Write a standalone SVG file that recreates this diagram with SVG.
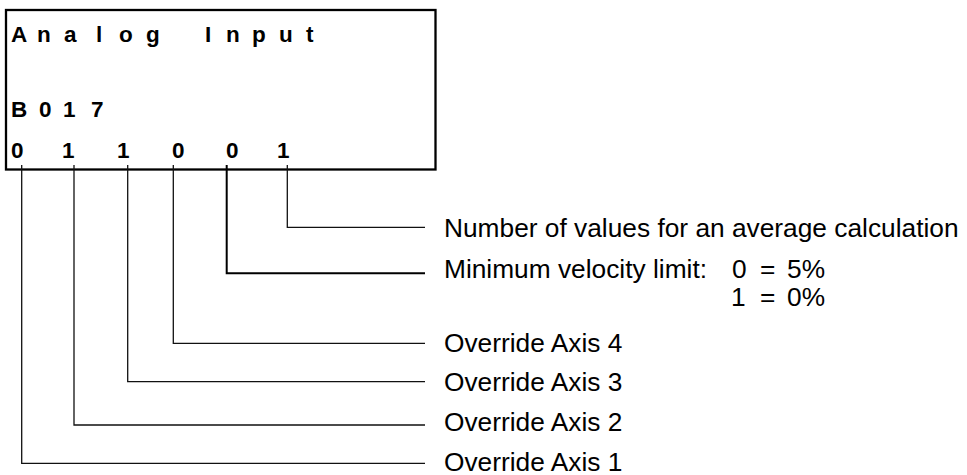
<svg xmlns="http://www.w3.org/2000/svg" width="967" height="475" viewBox="0 0 967 475">
<style>
.b{font-family:"Liberation Sans",Arial,sans-serif;font-weight:bold;font-size:22.5px;fill:#000}
.t{font-family:"Liberation Sans",Arial,sans-serif;font-size:26.3px;fill:#000}
.c{fill:none;stroke:#111;stroke-width:1.3}
.c2{fill:none;stroke:#000;stroke-width:2}
</style>
<rect width="967" height="475" fill="#fff"/>
<g id="display">
<rect x="6" y="10" width="429.5" height="159.5" fill="none" stroke="#000" stroke-width="2.3"/>
<text class="b" x="11 37 64 96 119 146 175 205 226 252 279 306" y="41.5">Analog Input</text>
<text class="b" x="11 39 63 91" y="117.3">B017</text>
<text class="b" x="11 62 117 172 226 277" y="158.3">011001</text>
</g>
<g id="connectors">
<polyline class="c" points="287.3,165 287.3,227.3 425,227.3"/>
<polyline class="c2" points="226.7,165 226.7,273.3 425,273.3"/>
<polyline class="c" points="173.3,165 173.3,343.3 425,343.3"/>
<polyline class="c" points="127.7,165 127.7,381.7 425,381.7"/>
<polyline class="c" points="74,165 74,425 425,425"/>
<polyline class="c" points="21.7,165 21.7,463.3 425,463.3"/>
</g>
<g id="label-avg"><text class="t" x="444" y="236.7">Number of values for an average calculation</text></g>
<g id="label-minvel">
<text class="t" x="444" y="278">Minimum velocity limit:</text>
<text class="t" y="278"><tspan x="732">0</tspan><tspan x="760">=</tspan><tspan x="787">5%</tspan></text>
<text class="t" y="305.5"><tspan x="731">1</tspan><tspan x="760">=</tspan><tspan x="787">0%</tspan></text>
</g>
<g id="label-ax4"><text class="t" x="444" y="352">Override Axis 4</text></g>
<g id="label-ax3"><text class="t" x="444" y="390.5">Override Axis 3</text></g>
<g id="label-ax2"><text class="t" x="444" y="431">Override Axis 2</text></g>
<g id="label-ax1"><text class="t" x="444" y="470.5">Override Axis 1</text></g>
</svg>
